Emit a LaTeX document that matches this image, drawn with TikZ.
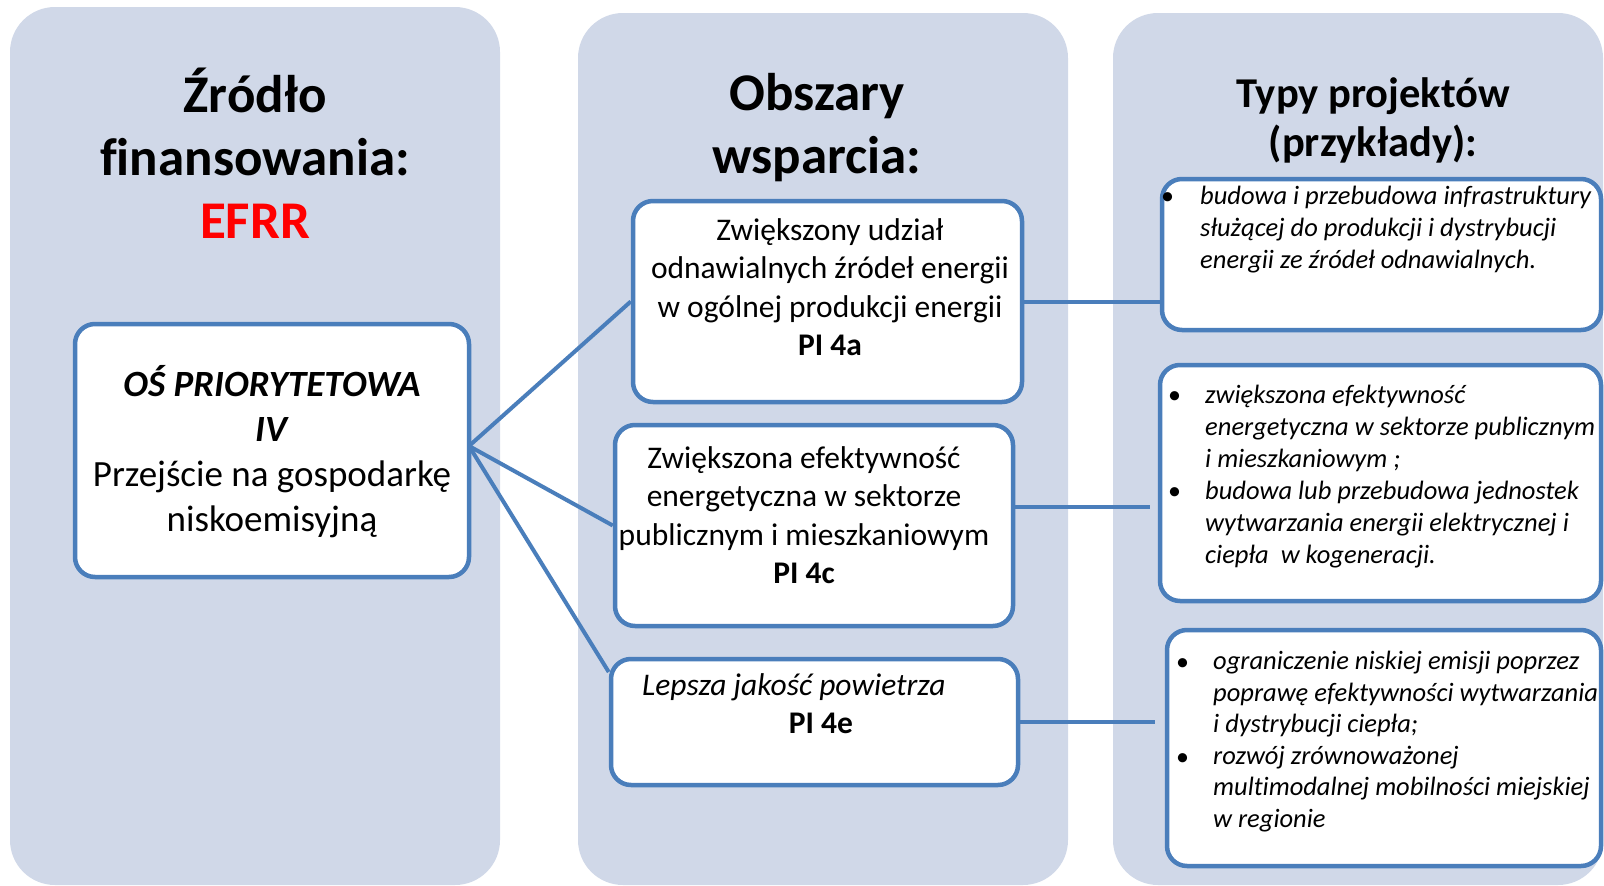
\documentclass[tikz,border=0pt]{standalone}
\usepackage{fontspec}
\setmainfont{Carlito}[Ligatures=NoCommon]
\definecolor{panelfill}{HTML}{D0D8E8}
\definecolor{edgeblue}{HTML}{4A7EBB}
\definecolor{efrrred}{HTML}{FF0000}
\begin{document}
\begin{tikzpicture}[x=1pt,y=-1pt,
  panel/.style={fill=panelfill, rounded corners=45pt},
  box/.style={draw=edgeblue, line width=4.5pt, fill=white, rounded corners=20pt, rectangle, inner sep=0pt},
  link/.style={draw=edgeblue, line width=4pt},
  ttl/.style={font=\fontsize{53}{63}\selectfont\bfseries, align=center, inner sep=0pt, anchor=base},
  ttlsmall/.style={font=\fontsize{42.5}{49}\selectfont\bfseries, align=center, inner sep=0pt, anchor=base},
  axis/.style={font=\fontsize{37}{45}\selectfont, align=center, inner sep=0pt, anchor=base},
  mid/.style={font=\fontsize{31.5}{38.5}\selectfont, align=center, inner sep=0pt, anchor=base},
  lst/.style={font=\fontsize{26.5}{32}\selectfont\itshape, align=left, inner sep=0pt, anchor=base west},
  bul/.style={font=\fontsize{26}{32}\selectfont, inner sep=0pt, anchor=base west}
]
\clip (0,0) rectangle (1604,886);
\fill[white] (0,0) rectangle (1604,886);
% panels
\fill[panel] (10,7) rectangle (500,885);
\fill[panel] (578,13) rectangle (1068,885);
\fill[panel] (1113,13) rectangle (1603,885);
% titles (anchor base = last line)
\node[ttl] (t1) at (255,238) {Źródło\\finansowania:\\\textcolor{efrrred}{EFRR}};
\node[ttl] (t2) at (817,173) {Obszary\\wsparcia:};
\node[ttlsmall] (t3) at (1373,156) {Typy projektów\\(przykłady):};
% boxes
\node[box, minimum width=394pt, minimum height=253pt] (L) at (272,450.5) {};
\node[box, minimum width=389pt, minimum height=201pt] (A) at (827.5,301.5) {};
\node[box, minimum width=398pt, minimum height=201pt] (C) at (814,525.5) {};
\node[box, minimum width=407pt, minimum height=126pt] (E) at (814.5,722) {};
\node[box, minimum width=439pt, minimum height=151pt] (R1) at (1381.5,254.5) {};
\node[box, minimum width=441pt, minimum height=236pt] (R2) at (1380.5,483) {};
\node[box, minimum width=434pt, minimum height=236pt] (R3) at (1384,748) {};
% connectors
\coordinate (hub) at (469,446);
\draw[link] (hub) -- (A.west);
\draw[link] (hub) -- (C.west);
\draw[link] (hub) -- ([yshift=50pt]E.west);
\draw[link] (A.east) -- (A.east -| R1.west);
\coordinate (c2) at (1150,507);
\draw[link] (C.east |- c2) -- (c2);
\draw[link] (E.east) -- ([xshift=-10pt]E.east -| R3.west);
% texts (anchor base = last line)
\node[axis] (Ltxt) at (272,531) {\textbf{\textit{OŚ PRIORYTETOWA}}\\\textbf{\textit{IV}}\\Przejście na gospodarkę\\niskoemisyjną};
\node[mid] (Atxt) at (830,355.5) {Zwiększony udział\\odnawialnych źródeł energii\\w ogólnej produkcji energii\\\textbf{PI 4a}};
\node[mid] (Ctxt) at (804,583.5) {Zwiększona efektywność\\energetyczna w sektorze\\publicznym i mieszkaniowym\\\textbf{PI 4c}};
\node[mid, anchor=base west] (Etxt) at (642,695) {\textit{Lepsza jakość powietrza}};
\node[mid] (Epi) at (821,733) {\textbf{PI 4e}};
% lists
\node[bul] (b1) at (1161,204) {•};
\node[lst] (r1) at (1200,268) {budowa i przebudowa infrastruktury\\służącej do produkcji i dystrybucji\\energii ze źródeł odnawialnych.};
\node[bul] (b2) at (1168,403) {•};
\node[bul] (b3) at (1168,499) {•};
\node[lst] (r2) at (1205,563) {zwiększona efektywność\\energetyczna w sektorze publicznym\\i mieszkaniowym ;\\budowa lub przebudowa jednostek\\wytwarzania energii elektrycznej i\\ciepła\ \ w kogeneracji.};
\node[bul] (b4) at (1176,670) {•};
\node[bul] (b5) at (1176,765) {•};
\node[lst, font=\fontsize{26.5}{31.5}\selectfont\itshape] (r3) at (1213,827) {ograniczenie niskiej emisji poprzez\\poprawę efektywności wytwarzania\\i dystrybucji ciepła;\\rozwój zrównoważonej\\multimodalnej mobilności miejskiej\\w regionie};
\end{tikzpicture}
\end{document}
